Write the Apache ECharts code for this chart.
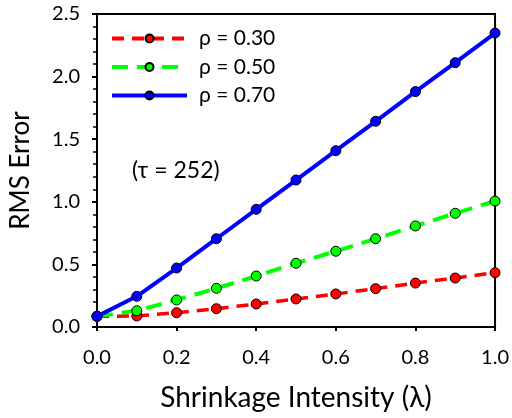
<!DOCTYPE html>
<html>
<head>
<meta charset="utf-8">
<script src="https://cdn.jsdelivr.net/npm/echarts@6/dist/echarts.min.js"></script>
<style>html,body{margin:0;padding:0;background:#fff}#c{width:512px;height:418px}</style>
</head>
<body>
<div id="c"></div>
<script>
const lambdas = [0.0, 0.1, 0.2, 0.3, 0.4, 0.5, 0.6, 0.7, 0.8, 0.9, 1.0];
const rho30 = [0.085, 0.088, 0.114, 0.146, 0.184, 0.224, 0.264, 0.306, 0.351, 0.391, 0.434];
const rho50 = [0.085, 0.130, 0.216, 0.309, 0.407, 0.509, 0.605, 0.705, 0.807, 0.908, 1.006];
const rho70 = [0.085, 0.245, 0.471, 0.705, 0.940, 1.174, 1.408, 1.643, 1.880, 2.111, 2.348];
const seriesNames = ['ρ = 0.30', 'ρ = 0.50', 'ρ = 0.70'];
const annotation = '(τ = 252)';
const xTitle = 'Shrinkage Intensity (λ)';
const yTitle = 'RMS Error';

const FONT = 'Lato, "Open Sans", sans-serif';
const pairs = arr => lambdas.map((x, i) => [x, arr[i]]);

function mk(name, data, color, type, width) {
  return {
    name: name, type: 'line', data: pairs(data),
    symbol: 'circle', symbolSize: 10,
    lineStyle: { color: color, width: width, type: type },
    itemStyle: { color: color, borderColor: '#000', borderWidth: 1 },
    emphasis: { disabled: true },
    animation: false
  };
}

const chart = echarts.init(document.getElementById('c'), null, { renderer: 'canvas' });
chart.setOption({
  backgroundColor: '#fff',
  textStyle: { fontFamily: FONT },
  grid: { left: 95, top: 14, right: 15, bottom: 91, show: true, borderColor: '#000', borderWidth: 2, backgroundColor: 'transparent' },
  legend: {
    orient: 'vertical', left: 105, top: 22, itemWidth: 75, itemHeight: 10, itemGap: 5.5,
    lineStyle: { width: 4 },
    textStyle: { fontFamily: FONT, fontSize: 21, lineHeight: 23, color: '#000', padding: [0, 0, 0, 7] },
    data: seriesNames
  },
  xAxis: {
    type: 'value', min: 0, max: 1, interval: 0.2,
    name: xTitle, nameLocation: 'middle', nameGap: 57,
    nameTextStyle: { fontFamily: FONT, fontSize: 28, color: '#000' },
    axisLine: { lineStyle: { color: '#000', width: 2 } },
    axisTick: { show: true, inside: false, length: 4, lineStyle: { color: '#000', width: 2 } },
    axisLabel: { margin: 21, fontSize: 20, color: '#000', fontFamily: FONT, formatter: v => v.toFixed(1) },
    splitLine: { show: false }
  },
  yAxis: {
    type: 'value', min: 0, max: 2.5, interval: 0.5,
    name: yTitle, nameLocation: 'middle', nameGap: 63,
    nameTextStyle: { fontFamily: FONT, fontSize: 26, color: '#000' },
    axisLine: { lineStyle: { color: '#000', width: 2 } },
    axisTick: { show: true, inside: false, length: 5, lineStyle: { color: '#000', width: 2 } },
    minorTick: { show: true, splitNumber: 5, length: 4, lineStyle: { color: '#000', width: 1.5 } },
    axisLabel: { margin: 17, fontSize: 20, color: '#000', fontFamily: FONT, formatter: v => v.toFixed(1) },
    splitLine: { show: false }
  },
  graphic: [{
    type: 'text', left: 132, top: 159,
    style: { text: annotation, font: '23px ' + FONT, fill: '#000' }
  }],
  series: [
    mk(seriesNames[0], rho30, '#ff0000', [12, 8], 3.5),
    mk(seriesNames[1], rho50, '#00ff00', [16, 9], 4),
    mk(seriesNames[2], rho70, '#0000ff', 'solid', 4)
  ]
});
</script>
</body>
</html>
